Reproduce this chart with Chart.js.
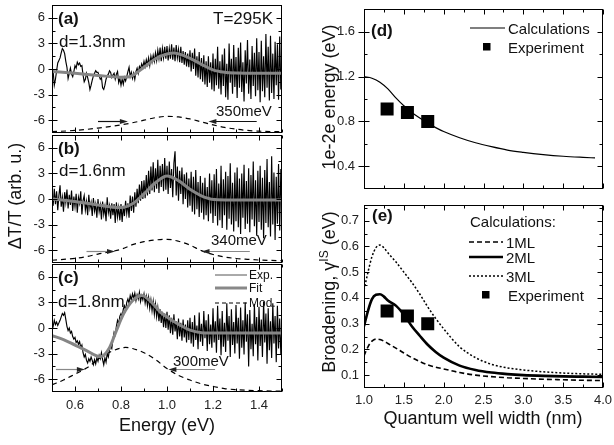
<!DOCTYPE html>
<html>
<head>
<meta charset="utf-8">
<script src="https://cdn.jsdelivr.net/npm/chart.js@4.4.0/dist/chart.umd.min.js"></script>
<style>
  html, body { margin: 0; padding: 0; background: #fff; }
  #fig { position: relative; width: 614px; height: 445px; overflow: hidden;
         font-family: "Liberation Sans", Arial, sans-serif; color: #111; }
  #fig canvas { position: absolute; }
  .t { position: absolute; white-space: nowrap; line-height: 1; }
  .b { font-weight: bold; font-size: 17px; }
  .m { font-size: 17px; }
  .s { font-size: 15px; }
  .l { font-size: 12px; }
  .ax { font-size: 18px; }
  .rot { transform: translate(-50%, -50%) rotate(-90deg); }
  .ctr { transform: translate(-50%, -50%); }
  svg { position: absolute; overflow: visible; }
  sup { font-size: 12px; vertical-align: 7px; line-height: 0; }
</style>
</head>
<body>
<div id="fig">
  <canvas id="cA" width="292" height="135" style="left:0;top:0"></canvas>
  <canvas id="cB" width="292" height="132" style="left:0;top:133px"></canvas>
  <canvas id="cC" width="292" height="183" style="left:0;top:262px"></canvas>
  <canvas id="cD" width="314" height="198" style="left:300px;top:0"></canvas>
  <canvas id="cE" width="314" height="249" style="left:300px;top:196px"></canvas>

  <!-- left column text -->
  <div class="t b" style="left:58px;top:10px">(a)</div>
  <div class="t m" style="left:59px;top:33px">d=1.3nm</div>
  <div class="t m" style="left:213px;top:10px">T=295K</div>
  <div class="t s" style="left:216px;top:103px">350meV</div>
  <div class="t b" style="left:58px;top:140px">(b)</div>
  <div class="t m" style="left:59px;top:162px">d=1.6nm</div>
  <div class="t s" style="left:211px;top:232px">340meV</div>
  <div class="t b" style="left:58px;top:269px">(c)</div>
  <div class="t m" style="left:58px;top:293px">d=1.8nm</div>
  <div class="t s" style="left:173px;top:353px">300meV</div>

  <svg style="left:215px;top:270px" width="32" height="40">
    <line x1="0" y1="5" x2="32" y2="5" stroke="#555" stroke-width="1"/>
    <line x1="0" y1="18" x2="32" y2="18" stroke="#888" stroke-width="3"/>
    <line x1="0" y1="33" x2="32" y2="33" stroke="#000" stroke-width="1" stroke-dasharray="4 3"/>
  </svg>
  <div class="t l" style="left:249px;top:269px">Exp.</div>
  <div class="t l" style="left:249px;top:282px">Fit</div>
  <div class="t l" style="left:249px;top:297px">Mod.</div>

  <div class="t ax rot" style="left:15px;top:196px">ΔT/T (arb. u.)</div>
  <div class="t ax ctr" style="left:167px;top:425px">Energy (eV)</div>

  <!-- right column text -->
  <div class="t b" style="left:371px;top:22px">(d)</div>
  <svg style="left:470px;top:24px" width="35" height="8">
    <line x1="0" y1="4" x2="35" y2="4" stroke="#000" stroke-width="1.2"/>
  </svg>
  <div class="t s" style="left:508px;top:21px">Calculations</div>
  <svg style="left:483px;top:43px" width="8" height="8"><rect x="0" y="0" width="7.5" height="7.5" fill="#000"/></svg>
  <div class="t s" style="left:508px;top:40px">Experiment</div>

  <div class="t b" style="left:372px;top:207px">(e)</div>
  <div class="t s" style="left:470px;top:214px">Calculations:</div>
  <svg style="left:469px;top:238px" width="34" height="42">
    <line x1="0" y1="4" x2="34" y2="4" stroke="#000" stroke-width="1.5" stroke-dasharray="5 3"/>
    <line x1="0" y1="19" x2="34" y2="19" stroke="#000" stroke-width="2.6"/>
    <line x1="0" y1="38" x2="34" y2="38" stroke="#000" stroke-width="1.4" stroke-dasharray="2 2"/>
  </svg>
  <div class="t s" style="left:506px;top:235px">1ML</div>
  <div class="t s" style="left:506px;top:250px">2ML</div>
  <div class="t s" style="left:506px;top:269px">3ML</div>
  <svg style="left:482px;top:291px" width="8" height="8"><rect x="0" y="0" width="7.5" height="7.5" fill="#000"/></svg>
  <div class="t s" style="left:508px;top:288px">Experiment</div>

  <div class="t ax rot" style="left:329px;top:97px">1e-2e energy (eV)</div>
  <div class="t ax rot" style="left:329px;top:292px">Broadening, γ<sup>IS</sup> (eV)</div>
  <div class="t ax ctr" style="left:483px;top:418px">Quantum well width (nm)</div>
</div>

<script>
// ---------------------------------------------
// Data
// ---------------------------------------------

// Energy grid of the measured spectra (eV)
const energyStart = 0.5;
const energyStep = 0.005;

// Measured dT/T, panel (a) d=1.3nm
const expA = [
  -0.6, -0.3, -1.9, -1.2, -0.2, 0.7, 1.0, 1.3, 1.9, 2.4, 2.2, 1.8, 0.9, 0.2, -1.1, -0.5, 0.1, -0.6, -0.9, -0.3,
  0.4, 0.1, 0.8, 0.5, 0.7, 0.3, 0.4, -0.7, -1.5, -1.2, -0.5, -1.0, -1.6, -2.4, -1.9, -1.3, -0.8, -0.5, -0.2, -0.4,
  -0.4, -0.8, -1.2, -1.0, -2.2, -2.4, -1.9, -1.2, -0.8, -0.6, -0.2, -0.4, -1.0, -0.7, -0.5, -1.2, -0.6, -0.3, -1.6, -1.1,
  -1.9, -1.2, -1.8, -1.0, -1.4, -0.9, -0.3, 0.2, -0.9, -0.4, -1.1, -0.5, -1.2, -0.3, 0.1, -0.5, 0.3, 0.0, 0.6, 0.2,
  0.9, 0.3, 1.1, 0.5, 1.3, 0.4, 1.5, 0.8, 1.6, 0.9, 1.9, 1.0, 2.2, 1.2, 2.5, 0.9, 2.4, 1.3, 2.6, 1.2,
  2.7, 1.0, 2.4, 1.2, 2.9, 1.1, 2.5, 0.9, 2.8, 1.3, 2.3, 0.8, 2.6, 0.7, 2.1, 0.5, 2.0, 0.3, 1.8, 0.2,
  2.2, -0.3, 1.9, 0.0, 2.4, -0.8, 1.5, -1.0, 2.0, -1.2, 1.3, -1.5, 1.6, -1.8, 0.9, -2.1, 1.5, -1.6, 0.8, -2.4,
  1.8, -2.6, 1.2, -1.9, 2.6, -2.3, 0.9, -3.0, 1.7, -2.0, 2.4, -3.3, 0.6, -3.6, 3.0, -1.6, 1.2, -2.9, 2.8, -2.1,
  1.4, -3.4, 2.5, -2.2, 3.1, -2.7, 0.8, -3.8, 2.2, -1.7, 3.4, -2.9, 1.1, -3.5, 2.7, -2.0, 1.9, -3.2, 3.6, -2.5,
  2.0, -3.9, 3.3, -2.6, 1.5, -3.3, 4.1, -2.2, 2.6, -3.7, 3.9, -2.8, 1.8, -3.5, 3.2, -1.9, 2.9, -3.6, 3.8, -2.4, 0.5
];

// Measured dT/T, panel (b) d=1.6nm
const expB = [
  0.3, -0.8, 1.2, -0.6, 0.9, -1.3, 0.4, 1.6, -0.9, 0.2, -1.5, 0.8, -0.4, 1.1, -1.1, 0.5, -0.7, 1.0, -1.4, 0.3,
  -0.9, 0.6, -1.6, 0.2, -0.5, 0.9, -1.8, -0.2, 0.4, -1.3, -0.3, -1.9, 0.5, -1.1, -0.4, -2.0, 0.1, -1.4, -0.6, -2.2,
  0.0, -1.5, -0.7, -2.4, -0.3, -1.8, -0.9, -2.6, 0.2, -1.6, -0.8, -2.3, -0.5, -1.9, -0.6, -2.8, -0.4, -2.1, -1.0, -2.5,
  -0.6, -2.7, -0.8, -2.0, -0.2, -1.7, -0.5, -2.2, 0.4, -1.4, 0.3, -1.6, 0.8, -0.9, 1.2, -0.5, 1.7, -0.2, 2.1, 0.0,
  2.2, 0.1, 2.8, 0.4, 3.3, 0.6, 3.8, 1.0, 4.3, 0.8, 3.6, 1.2, 4.6, 0.7, 3.9, 1.4, 4.1, 0.9, 4.8, 1.1,
  3.9, 0.6, 4.4, 1.3, 3.5, 0.2, 4.2, 5.6, 0.4, 3.8, -0.2, 3.3, 0.6, 3.7, -0.6, 2.9, 0.0, 3.1, -1.0, 2.4,
  -0.8, 3.2, -1.5, 2.6, -1.8, 3.4, -1.2, 2.0, -2.1, 2.7, -1.6, 1.9, -2.4, 2.5, -1.9, 1.4, -2.6, 3.0, -1.7, 2.2,
  -2.8, 2.9, -2.0, 3.5, -3.1, 1.8, -2.5, 3.9, -3.4, 2.3, -1.9, 3.2, -3.6, 2.7, -2.3, 4.2, -3.0, 1.9, -3.8, 3.1,
  -2.6, 3.7, -3.3, 2.4, -4.1, 3.0, -2.2, 4.0, -3.5, 2.1, -2.9, 3.6, -3.9, 2.8, -2.4, 4.4, -3.2, 2.2, -4.3, 3.3,
  -2.7, 3.9, -3.6, 2.5, -4.6, 3.4, -2.8, 4.7, -3.3, 2.0, -4.4, 5.0, -3.0, 3.1, -4.8, 2.6, -2.9, 4.1, -3.7, 3.5, -1.5
];

// Measured dT/T, panel (c) d=1.8nm
const expC = [
  0.5, 0.2, 0.9, 0.4, 0.7, 0.3, 0.6, 0.9, 1.3, 1.7, 1.5, 1.8, 1.0, 0.2, -0.3, 0.0, -0.6, -0.4, -1.0, -1.3,
  -1.1, -1.7, -1.5, -1.9, -1.6, -2.3, -2.0, -2.9, -3.4, -3.1, -3.8, -4.1, -3.6, -3.9, -3.4, -3.8, -4.3, -3.7, -4.2, -3.5,
  -3.9, -3.2, -3.6, -2.9, -3.7, -4.3, -3.5, -4.0, -3.0, -3.4, -2.6, -2.1, -2.4, -1.3, -0.5, -0.8, 0.2, 0.9, 0.5, 1.4,
  1.7, 1.3, 2.2, 2.6, 2.1, 3.0, 3.4, 2.9, 3.8, 3.3, 4.0, 3.5, 4.1, 3.2, 3.9, 3.4, 4.2, 3.1, 3.8, 3.3,
  4.0, 2.9, 3.7, 2.6, 3.6, 2.3, 3.3, 2.0, 3.1, 1.6, 2.8, 1.3, 2.4, 0.8, 2.2, 0.6, 1.9, 0.1, 1.7, 0.0,
  1.9, -0.2, 1.5, -0.6, 1.2, -0.8, 1.6, -0.4, 0.8, -1.3, 1.1, -1.0, 0.6, -1.5, 1.0, -1.1, 0.4, -1.7, 0.9, -1.4,
  1.2, -1.8, 0.7, -2.2, 1.5, -1.4, 0.3, -2.5, 1.8, -1.6, 0.5, -2.1, 2.0, -1.2, 0.9, -2.7, 1.6, -1.9, 0.4, -2.3,
  2.3, -1.7, 0.8, -2.9, 2.6, -1.4, 1.1, -3.2, 2.0, -2.2, 0.6, -2.8, 2.9, -1.5, 1.4, -3.4, 2.2, -2.0, 0.7, -3.0,
  2.7, -1.8, 1.2, -3.6, 2.4, -2.3, 0.9, -3.1, 3.0, -1.6, 1.6, -4.5, 2.1, -2.5, 0.5, -3.3, 2.8, -1.9, 1.3, -3.8,
  2.5, -2.1, 1.0, -3.4, 3.1, -1.7, 1.7, -4.2, 2.3, -2.6, 0.8, -3.5, 2.9, -1.8, 1.4, -4.0, 2.6, -2.4, 1.1, -3.1, 0.4
];

// Fits (gray)
const fitAx = [0.5, 0.6, 0.7, 0.8, 0.83, 0.86, 0.9, 0.95, 1.0, 1.03, 1.07, 1.1, 1.15, 1.2, 1.25, 1.3, 1.4, 1.5];
const fitAy = [-0.3, -0.5, -0.75, -0.97, -0.95, -0.6, 0.2, 1.2, 1.75, 1.87, 1.6, 1.25, 0.55, -0.1, -0.38, -0.47, -0.5, -0.5];
const fitBx = [0.5, 0.6, 0.7, 0.75, 0.8, 0.85, 0.9, 0.95, 1.0, 1.05, 1.1, 1.165, 1.22, 1.3, 1.5];
const fitBy = [0.0, -0.3, -0.7, -0.9, -1.0, -0.55, 0.6, 1.9, 2.7, 2.15, 1.15, 0.2, -0.1, -0.12, -0.12];
const fitCx = [0.5, 0.55, 0.6, 0.65, 0.71, 0.75, 0.78, 0.81, 0.85, 0.89, 0.93, 0.97, 1.0, 1.05, 1.1, 1.15, 1.2, 1.5];
const fitCy = [-0.9, -1.35, -2.0, -2.65, -3.36, -2.3, -0.3, 1.6, 3.2, 3.8, 3.1, 1.9, 1.3, 0.45, -0.25, -0.55, -0.6, -0.6];

// Model line shapes (dashed)
const modAx = [0.5, 0.6, 0.65, 0.7, 0.75, 0.8, 0.85, 0.9, 0.95, 1.0, 1.05, 1.1, 1.15, 1.2, 1.25, 1.3, 1.35, 1.4, 1.45, 1.5];
const modAy = [-7.35, -7.2, -7.08, -6.92, -6.75, -6.55, -6.3, -6.0, -5.7, -5.55, -5.62, -5.85, -6.2, -6.55, -6.85, -7.05, -7.2, -7.28, -7.33, -7.36];
const modBx = modAx;
const modBy = [-7.18, -6.95, -6.75, -6.45, -6.2, -5.9, -5.35, -5.0, -4.8, -4.72, -4.95, -5.4, -6.05, -6.5, -6.8, -6.97, -7.07, -7.15, -7.2, -7.22];
const modCx = [0.5, 0.55, 0.6, 0.65, 0.7, 0.75, 0.8, 0.82, 0.85, 0.9, 0.95, 1.0, 1.05, 1.1, 1.15, 1.2, 1.25, 1.3, 1.4, 1.5];
const modCy = [-6.65, -6.1, -5.4, -4.7, -3.7, -2.85, -2.35, -2.27, -2.4, -2.9, -3.7, -4.75, -5.55, -6.1, -6.55, -6.85, -7.1, -7.22, -7.35, -7.4];

// FWHM arrows [from, to, level]
const arrowsA = [[0.70, 0.83, -6.1], [1.39, 1.18, -6.1]];
const arrowsB = [[0.65, 0.774, -6.08], [1.36, 1.15, -6.08]];
const arrowsC = [[0.517, 0.643, -4.8], [1.209, 1.006, -4.8]];

// Panel (d): 1e-2e transition energy vs well width
const widthCalcD = [1.0, 1.1, 1.2, 1.3, 1.4, 1.5, 1.6, 1.7, 1.8, 1.9, 2.0, 2.2, 2.4, 2.6, 2.8, 3.0, 3.25, 3.5, 3.75, 3.9];
const energyCalc = [1.20, 1.185, 1.15, 1.09, 1.01, 0.94, 0.88, 0.83, 0.785, 0.745, 0.71, 0.655, 0.61, 0.575, 0.545, 0.525, 0.505, 0.49, 0.48, 0.475];
const widthExp = [1.29, 1.545, 1.80];
const energyExp = [0.91, 0.88, 0.80];

// Panel (e): intersubband broadening vs well width
const widthCalcE = [1.0, 1.05, 1.1, 1.15, 1.2, 1.25, 1.3, 1.4, 1.5, 1.6, 1.7, 1.8, 1.9, 2.0, 2.2, 2.4, 2.6, 2.8, 3.0, 3.25, 3.5, 3.75, 4.0];
const broad1ML = [0.175, 0.21, 0.232, 0.24, 0.238, 0.232, 0.223, 0.205, 0.186, 0.168, 0.153, 0.14, 0.131, 0.124, 0.11, 0.1, 0.094, 0.09, 0.087, 0.084, 0.082, 0.08, 0.079];
const broad2ML = [0.29, 0.35, 0.395, 0.412, 0.414, 0.405, 0.39, 0.37, 0.335, 0.29, 0.253, 0.218, 0.19, 0.168, 0.137, 0.12, 0.11, 0.104, 0.1, 0.097, 0.095, 0.094, 0.093];
const broad3ML = [0.43, 0.5, 0.56, 0.595, 0.605, 0.595, 0.575, 0.54, 0.5, 0.46, 0.415, 0.365, 0.32, 0.28, 0.21, 0.168, 0.142, 0.128, 0.12, 0.113, 0.108, 0.105, 0.103];
const broadExp = [0.349, 0.33, 0.30];

// Tick values
const energyTicks = [0.6, 0.8, 1.0, 1.2, 1.4];
const energyMinor = [0.5, 0.7, 0.9, 1.1, 1.3, 1.5];
const signalTicks = [-6, -3, 0, 3, 6];
const signalMinor = [-4.5, -1.5, 1.5, 4.5];
const widthTicks = [1.0, 1.5, 2.0, 2.5, 3.0, 3.5, 4.0];
const widthMinor = [1.25, 1.75, 2.25, 2.75, 3.25, 3.75];
const gapTicks = [0.4, 0.8, 1.2, 1.6];
const gapMinor = [0.6, 1.0, 1.4];
const broadTicks = [0.1, 0.2, 0.3, 0.4, 0.5, 0.6, 0.7];
const broadMinor = [0.15, 0.25, 0.35, 0.45, 0.55, 0.65, 0.75];

// ---------------------------------------------
// Helpers
// ---------------------------------------------
const pts = (xs, ys) => xs.map((x, i) => ({ x: x, y: ys[i] }));
const gridPts = ys => ys.map((y, i) => ({ x: energyStart + i * energyStep, y: y }));

// frame, inward ticks and FWHM arrows
const frameTicks = {
    id: 'frameTicks',
    afterDatasetsDraw(chart, args, o) {
        const { ctx, chartArea: a } = chart;
        const sx = chart.scales.x, sy = chart.scales.y;
        const L = Math.round(a.left) + 0.5, R = Math.round(a.right) - 0.5;
        const T = Math.round(a.top) + 0.5, B = Math.round(a.bottom) - 0.5;
        ctx.save();
        ctx.strokeStyle = '#000';
        ctx.lineWidth = 1;
        ctx.strokeRect(L, T, R - L, B - T);
        const seg = (x1, y1, x2, y2) => { ctx.beginPath(); ctx.moveTo(x1, y1); ctx.lineTo(x2, y2); ctx.stroke(); };

        o.xMajor.map(v => [v, 5]).concat(o.xMinor.map(v => [v, 3])).forEach(([v, len]) => {
            const p = Math.round(sx.getPixelForValue(v)) + 0.5;
            seg(p, B, p, B - len);
            if (o.top) seg(p, T, p, T + len);
        });
        o.yMajor.map(v => [v, 5]).concat(o.yMinor.map(v => [v, 3])).forEach(([v, len]) => {
            const p = Math.round(sy.getPixelForValue(v)) + 0.5;
            seg(L, p, L + len, p);
            seg(R, p, R - len, p);
        });
        if (o.yOut) {
            o.yMajor.forEach(v => {
                const p = Math.round(sy.getPixelForValue(v)) + 0.5;
                seg(L, p, L - o.yOut, p);
            });
        }

        (o.arrows || []).forEach(([x1, x2, yv]) => {
            const p1 = sx.getPixelForValue(x1), p2 = sx.getPixelForValue(x2);
            const py = Math.round(sy.getPixelForValue(yv)) + 0.5;
            const dir = Math.sign(p2 - p1);
            ctx.strokeStyle = o.arrowColor;
            ctx.lineWidth = 1.2;
            seg(p1, py, p2 - dir * 5, py);
            ctx.fillStyle = '#222';
            ctx.beginPath();
            ctx.moveTo(p2, py);
            ctx.lineTo(p2 - dir * 8, py - 2.6);
            ctx.lineTo(p2 - dir * 8, py + 2.6);
            ctx.closePath();
            ctx.fill();
        });
        ctx.restore();
    }
};

const tickFont = { family: '"Liberation Sans", Arial, sans-serif', size: 13 };

function makePanel(id, p) {
    return new Chart(document.getElementById(id), {
        type: 'line',
        data: { datasets: p.datasets },
        options: {
            responsive: false,
            animation: false,
            events: [],
            layout: { padding: p.padding },
            elements: { point: { radius: 0 } },
            plugins: {
                legend: { display: false },
                tooltip: { enabled: false },
                frameTicks: p.frame
            },
            scales: {
                x: {
                    type: 'linear', min: p.xMin, max: p.xMax,
                    afterBuildTicks: s => { s.ticks = p.xTicks.map(v => ({ value: v })); },
                    afterFit: s => { s.height = p.xHeight; s.paddingLeft = 0; s.paddingRight = 0; },
                    grid: { display: false, drawTicks: false },
                    border: { display: false },
                    ticks: {
                        display: p.xLabels, autoSkip: false, maxRotation: 0,
                        padding: p.xPad, font: tickFont, color: '#222',
                        callback: v => v.toFixed(1)
                    }
                },
                y: {
                    type: 'linear', min: p.yMin, max: p.yMax,
                    afterBuildTicks: s => { s.ticks = p.yTicks.map(v => ({ value: v })); },
                    afterFit: s => { s.width = p.yWidth; s.paddingTop = 0; s.paddingBottom = 0; },
                    grid: { display: false, drawTicks: false },
                    border: { display: false },
                    ticks: {
                        autoSkip: false, padding: p.yPad, font: tickFont, color: '#222',
                        callback: p.yFormat
                    }
                }
            }
        },
        plugins: [frameTicks]
    });
}

// ---------------------------------------------
// Spectra (a)-(c)
// ---------------------------------------------
function spectrumSets(exp, fx, fy, mx, my) {
    return [
        { data: pts(fx, fy), borderColor: '#858585', borderWidth: 3, cubicInterpolationMode: 'monotone', order: 1 },
        { data: gridPts(exp), borderColor: '#000', borderWidth: 1.15, order: 2 },
        { data: pts(mx, my), borderColor: '#000', borderWidth: 1.2, borderDash: [5, 4], cubicInterpolationMode: 'monotone', order: 3 }
    ];
}

const leftBase = {
    xMin: 0.5, xMax: 1.5, xTicks: energyTicks,
    yMin: -7.5, yMax: 7.5, yTicks: signalTicks, yWidth: 52, yPad: 7,
    yFormat: v => String(v)
};

makePanel('cA', Object.assign({}, leftBase, {
    datasets: spectrumSets(expA, fitAx, fitAy, modAx, modAy),
    padding: { top: 5, bottom: 2, left: 0, right: 10 },
    xHeight: 0, xLabels: false, xPad: 0,
    frame: { xMajor: energyTicks, xMinor: energyMinor, yMajor: signalTicks, yMinor: signalMinor,
             yOut: 4, top: false, arrows: arrowsA, arrowColor: '#111' }
}));

makePanel('cB', Object.assign({}, leftBase, {
    datasets: spectrumSets(expB, fitBx, fitBy, modBx, modBy),
    padding: { top: 2, bottom: 2, left: 0, right: 10 },
    xHeight: 0, xLabels: false, xPad: 0,
    frame: { xMajor: energyTicks, xMinor: energyMinor, yMajor: signalTicks, yMinor: signalMinor,
             yOut: 4, top: true, arrows: arrowsB, arrowColor: '#888' }
}));

makePanel('cC', Object.assign({}, leftBase, {
    datasets: spectrumSets(expC, fitCx, fitCy, modCx, modCy),
    padding: { top: 2, bottom: 0, left: 0, right: 10 },
    xHeight: 53, xLabels: true, xPad: 6,
    frame: { xMajor: energyTicks, xMinor: energyMinor, yMajor: signalTicks, yMinor: signalMinor,
             yOut: 4, top: true, arrows: arrowsC, arrowColor: '#888' }
}));

// ---------------------------------------------
// Well-width panels (d), (e)
// ---------------------------------------------
const expPoints = ys => ({
    data: pts(widthExp, ys), showLine: false, pointStyle: 'rect',
    pointRadius: 9.2, pointBackgroundColor: '#000', pointBorderWidth: 0, order: 0
});

makePanel('cD', {
    datasets: [
        expPoints(energyExp),
        { data: pts(widthCalcD, energyCalc), borderColor: '#000', borderWidth: 1.2, cubicInterpolationMode: 'monotone', order: 1 }
    ],
    padding: { top: 5, bottom: 2, left: 0, right: 11 },
    xMin: 1.0, xMax: 4.0, xTicks: widthTicks, xHeight: 0, xLabels: false, xPad: 0,
    yMin: 0.2, yMax: 1.8, yTicks: gapTicks, yWidth: 64, yPad: 9,
    yFormat: v => v.toFixed(1),
    frame: { xMajor: widthTicks, xMinor: widthMinor, yMajor: gapTicks, yMinor: gapMinor, yOut: 6, top: true }
});

makePanel('cE', {
    datasets: [
        expPoints(broadExp),
        { data: pts(widthCalcE, broad2ML), borderColor: '#000', borderWidth: 2.6, cubicInterpolationMode: 'monotone', order: 1 },
        { data: pts(widthCalcE, broad1ML), borderColor: '#000', borderWidth: 1.6, borderDash: [5, 3], cubicInterpolationMode: 'monotone', order: 2 },
        { data: pts(widthCalcE, broad3ML), borderColor: '#000', borderWidth: 1.5, borderDash: [2, 2], cubicInterpolationMode: 'monotone', order: 3 }
    ],
    padding: { top: 2, bottom: 0, left: 0, right: 11 },
    xMin: 1.0, xMax: 4.0, xTicks: widthTicks, xHeight: 57, xLabels: true, xPad: 5,
    yMin: 0.05, yMax: 0.76, yTicks: broadTicks, yWidth: 64, yPad: 5,
    yFormat: v => v.toFixed(1),
    frame: { xMajor: widthTicks, xMinor: widthMinor, yMajor: broadTicks, yMinor: broadMinor, yOut: 0, top: true }
});
</script>
</body>
</html>
